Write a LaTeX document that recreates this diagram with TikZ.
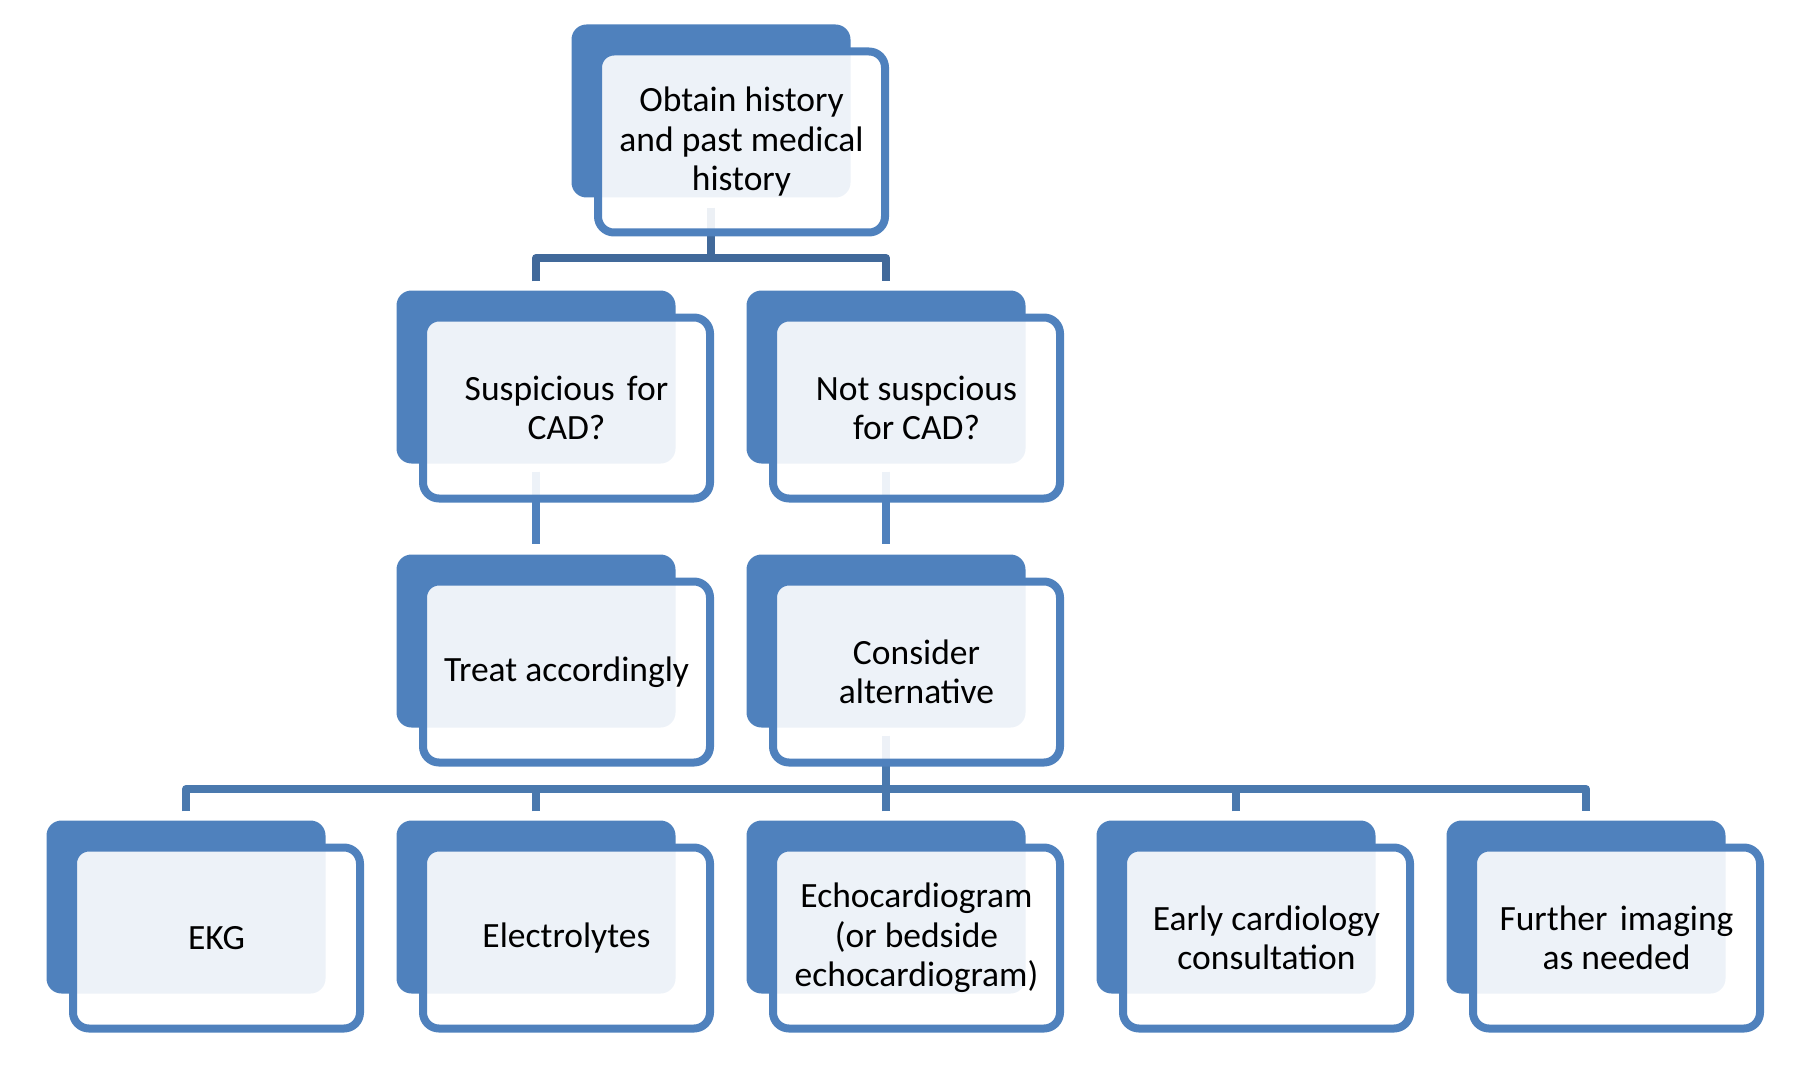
\documentclass[tikz,border=0pt]{standalone}
\usepackage{fontspec}
\setmainfont{Carlito}
\usetikzlibrary{calc}
\definecolor{acc}{HTML}{4F81BD}
\definecolor{connA}{HTML}{41699A}
\definecolor{connC}{HTML}{4A79AE}
\tikzset{
  back/.style={fill=acc, draw=none, rounded corners=15pt, minimum width=279pt, minimum height=173pt, inner sep=0pt},
  front/.style={draw=acc, line width=8pt, fill=white, fill opacity=0.9, text opacity=1, rounded corners=16pt,
    minimum width=287pt, minimum height=181pt, align=center, inner sep=0pt,
    font=\fontsize{35.5}{39.5}\selectfont},
  conn/.style={line width=8pt, line join=round},
}
\begin{document}
\begin{tikzpicture}[x=1pt,y=-1pt]
\useasboundingbox (0,0) rectangle (1802,1078);
% back boxes
\node[back] (b0) at (711,111) {};
\node[back] (b1) at (536,377) {};
\node[back] (b2) at (886,377) {};
\node[back] (b3) at (536,641) {};
\node[back] (b4) at (886,641) {};
\node[back] (b5) at (186,907) {};
\node[back] (b6) at (536,907) {};
\node[back] (b7) at (886,907) {};
\node[back] (b8) at (1236,907) {};
\node[back] (b9) at (1586,907) {};
\coordinate (bus1) at (0,258);
\coordinate (bus2) at (0,789);
% connectors
\draw[conn, connA] ($(b0.south)+(0,10)$) -- (b0.south |- bus1);
\draw[conn, connA] ($(b1.north)+(0,-9)$) |- (bus1 -| b0) -| ($(b2.north)+(0,-9)$);
\draw[conn, acc] ($(b1.south)+(0,8)$) -- ($(b3.north)+(0,-10)$);
\draw[conn, acc] ($(b2.south)+(0,8)$) -- ($(b4.north)+(0,-10)$);
\draw[conn, connC] ($(b4.south)+(0,8)$) -- (b4.south |- bus2);
\draw[conn, connC] ($(b5.north)+(0,-9)$) |- (bus2 -| b9) -- ($(b9.north)+(0,-9)$);
\draw[conn, connC] ($(b6.north)+(0,-9)$) -- (b6.north |- bus2);
\draw[conn, connC] ($(b7.north)+(0,-9)$) -- (b7.north |- bus2);
\draw[conn, connC] ($(b8.north)+(0,-9)$) -- (b8.north |- bus2);
% front boxes
\node[front] (f0) at ($(b0)+(30.5,31)$) {Obtain history\\and past medical\\history};
\node[front] (f1) at ($(b1)+(30.5,31)$) {Suspicious\hspace{0.12em} for\\CAD?};
\node[front] (f2) at ($(b2)+(30.5,31)$) {Not suspcious\\for CAD?};
\node[front] (f3) at ($(b3)+(30.5,31)$) {Treat accordingly};
\node[front] (f4) at ($(b4)+(30.5,31)$) {Consider\\alternative};
\node[front] (f5) at ($(b5)+(30.5,31)$) {EKG};
\node[front] (f6) at ($(b6)+(30.5,31)$) {Electrolytes};
\node[front] (f7) at ($(b7)+(30.5,31)$) {Echocardiogram\\(or bedside\\echocardiogram)};
\node[front] (f8) at ($(b8)+(30.5,31)$) {Early cardiology\\consultation};
\node[front] (f9) at ($(b9)+(30.5,31)$) {Further\hspace{0.12em} imaging\\as needed};
\end{tikzpicture}
\end{document}
